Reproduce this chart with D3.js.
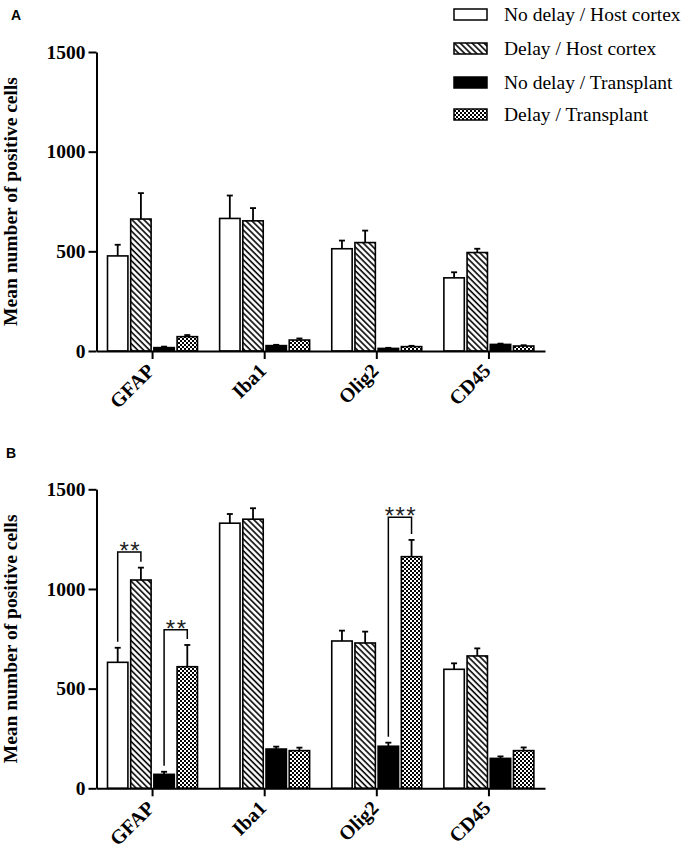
<!DOCTYPE html>
<html><head><meta charset="utf-8">
<script src="https://cdn.jsdelivr.net/npm/d3@7"></script>
<style>body{margin:0;background:#fff}svg{display:block}</style>
</head><body>
<script>
const categories = ["GFAP", "Iba1", "Olig2", "CD45"];
const seriesNames = ["No delay / Host cortex", "Delay / Host cortex", "No delay / Transplant", "Delay / Transplant"];
const yTicks = [0, 500, 1000, 1500];

// Panel A (means and SEM per series, order = categories)
const aNoDelayHost = [477, 665, 513, 367];
const aNoDelayHostSem = [56, 115, 41, 28];
const aDelayHost = [662, 653, 544, 494];
const aDelayHostSem = [130, 64, 60, 19];
const aNoDelayTrans = [17, 27, 13, 33];
const aNoDelayTransSem = [5, 4, 3, 4];
const aDelayTrans = [72, 55, 22, 25];
const aDelayTransSem = [8, 8, 4, 4];

// Panel B
const bNoDelayHost = [632, 1330, 739, 597];
const bNoDelayHostSem = [73, 46, 52, 30];
const bDelayHost = [1045, 1350, 729, 664];
const bDelayHostSem = [62, 55, 57, 38];
const bNoDelayTrans = [70, 197, 211, 150];
const bNoDelayTransSem = [13, 12, 18, 10];
const bDelayTrans = [610, 189, 1162, 189];
const bDelayTransSem = [109, 15, 84, 16];

// Significance brackets for panel B
const bBrackets = [
  {cat: "GFAP", a: 0, b: 1, label: "**", top: 1185},
  {cat: "GFAP", a: 2, b: 3, label: "**", top: 795},
  {cat: "Olig2", a: 2, b: 3, label: "***", top: 1360}
];

const W = 686, H = 850;
const svg = d3.select("body").append("svg").attr("width", W).attr("height", H)
  .style("background", "#fff");

const defs = svg.append("defs");
const hatch = defs.append("pattern").attr("id", "hatch").attr("patternUnits", "userSpaceOnUse")
  .attr("width", 4.2).attr("height", 4.2).attr("patternTransform", "rotate(-45)");
hatch.append("rect").attr("width", 4.2).attr("height", 4.2).attr("fill", "#fff");
hatch.append("line").attr("x1", 1).attr("y1", 0).attr("x2", 1).attr("y2", 4.2)
  .attr("stroke", "#000").attr("stroke-width", 1.6);
const checker = defs.append("pattern").attr("id", "checker").attr("patternUnits", "userSpaceOnUse")
  .attr("width", 4).attr("height", 4);
checker.append("rect").attr("width", 4).attr("height", 4).attr("fill", "#fff");
checker.append("rect").attr("width", 2).attr("height", 2).attr("fill", "#000");
checker.append("rect").attr("x", 2).attr("y", 2).attr("width", 2).attr("height", 2).attr("fill", "#000");

const fills = ["#fff", "url(#hatch)", "#000", "url(#checker)"];
const serif = "'Liberation Serif','Times New Roman',serif";

const x = d3.scaleBand().domain(categories).range([96.5, 545]).padding(0);
const inner = d3.scaleBand().domain(d3.range(4)).range([11, 101]).paddingInner(0.12).paddingOuter(0);

function panel(top, bottom, means, sems, brackets) {
  const y = d3.scaleLinear().domain([0, 1500]).range([bottom, top]);
  const g = svg.append("g");

  // bars
  means.forEach((vals, s) => {
    vals.forEach((v, i) => {
      const cx = x(categories[i]) + inner(s);
      const bw = inner.bandwidth();
      const topErr = v + sems[s][i];
      g.append("line").attr("x1", cx + bw / 2).attr("x2", cx + bw / 2)
        .attr("y1", y(v)).attr("y2", y(topErr)).attr("stroke", "#000").attr("stroke-width", 1.8);
      g.append("line").attr("x1", cx + bw / 2 - 3).attr("x2", cx + bw / 2 + 3)
        .attr("y1", y(topErr)).attr("y2", y(topErr)).attr("stroke", "#000").attr("stroke-width", 1.8);
      g.append("rect").attr("x", cx).attr("y", y(v)).attr("width", bw)
        .attr("height", Math.max(0, y(0) - y(v)))
        .attr("fill", fills[s]).attr("stroke", "#000").attr("stroke-width", 1.6);
    });
  });

  // brackets
  (brackets || []).forEach(br => {
    const i = categories.indexOf(br.cat);
    const bw = inner.bandwidth();
    const xa = x(br.cat) + inner(br.a) + bw / 2;
    const xb = x(br.cat) + inner(br.b) + bw / 2;
    const ya = y(means[br.a][i] + sems[br.a][i]) - 6;
    const yb = y(means[br.b][i] + sems[br.b][i]) - 6;
    const yt = y(br.top);
    g.append("path").attr("d", `M${xa},${ya}V${yt}H${xb}V${yb}`)
      .attr("fill", "none").attr("stroke", "#000").attr("stroke-width", 1.5);
    g.append("text").attr("x", (xa + xb) / 2 + 1).attr("y", yt + 7)
      .attr("text-anchor", "middle").attr("font-family", "'Liberation Sans',Arial,sans-serif")
      .attr("font-size", 24).attr("letter-spacing", 1.5).attr("fill", "#222").text(br.label);
  });

  // y axis
  const ya = g.append("g").attr("transform", "translate(96.5,0)")
    .call(d3.axisLeft(y).tickValues(yTicks).tickFormat(d3.format("d")).tickSize(8).tickPadding(3).tickSizeOuter(0));
  ya.select(".domain").attr("stroke-width", 2);
  ya.selectAll(".tick line").attr("stroke-width", 2);
  ya.selectAll(".tick text").attr("font-family", serif).attr("font-weight", "bold")
    .attr("font-size", 19.5).attr("fill", "#000");

  // x axis
  const xa = g.append("g").attr("transform", `translate(0,${bottom})`)
    .call(d3.axisBottom(x).tickSize(8).tickSizeOuter(0).tickPadding(0));
  xa.select(".domain").attr("stroke-width", 2);
  xa.selectAll(".tick line").attr("stroke-width", 2);
  xa.selectAll(".tick text").attr("font-family", serif).attr("font-weight", "bold")
    .attr("font-size", 20).attr("fill", "#000")
    .attr("text-anchor", "end").attr("dy", 0).attr("y", 0)
    .attr("transform", "translate(3,21) rotate(-45)");

  // y title
  g.append("text").attr("transform", `translate(17,${(top + bottom) / 2}) rotate(-90)`)
    .attr("text-anchor", "middle").attr("font-family", serif).attr("font-weight", "bold")
    .attr("font-size", 19.5).text("Mean number of positive cells");
}

panel(52, 351, [aNoDelayHost, aDelayHost, aNoDelayTrans, aDelayTrans],
  [aNoDelayHostSem, aDelayHostSem, aNoDelayTransSem, aDelayTransSem], []);
panel(489.3, 788.3, [bNoDelayHost, bDelayHost, bNoDelayTrans, bDelayTrans],
  [bNoDelayHostSem, bDelayHostSem, bNoDelayTransSem, bDelayTransSem], bBrackets);

// panel letters
svg.append("text").attr("x", 11).attr("y", 20).attr("font-family", "'Liberation Sans',Arial,sans-serif")
  .attr("font-weight", "bold").attr("font-size", 14).text("A");
svg.append("text").attr("x", 6).attr("y", 458).attr("font-family", "'Liberation Sans',Arial,sans-serif")
  .attr("font-weight", "bold").attr("font-size", 14).text("B");

// legend
const legY = [21, 55, 89, 121];
const leg = svg.append("g");
seriesNames.forEach((n, s) => {
  leg.append("rect").attr("x", 454).attr("y", legY[s] - 12).attr("width", 33).attr("height", 11)
    .attr("fill", fills[s]).attr("stroke", "#000").attr("stroke-width", 1.5);
  leg.append("text").attr("x", 504).attr("y", legY[s]).attr("font-family", serif)
    .attr("font-size", 19.5).attr("fill", "#000").text(n);
});
</script>
</body></html>
